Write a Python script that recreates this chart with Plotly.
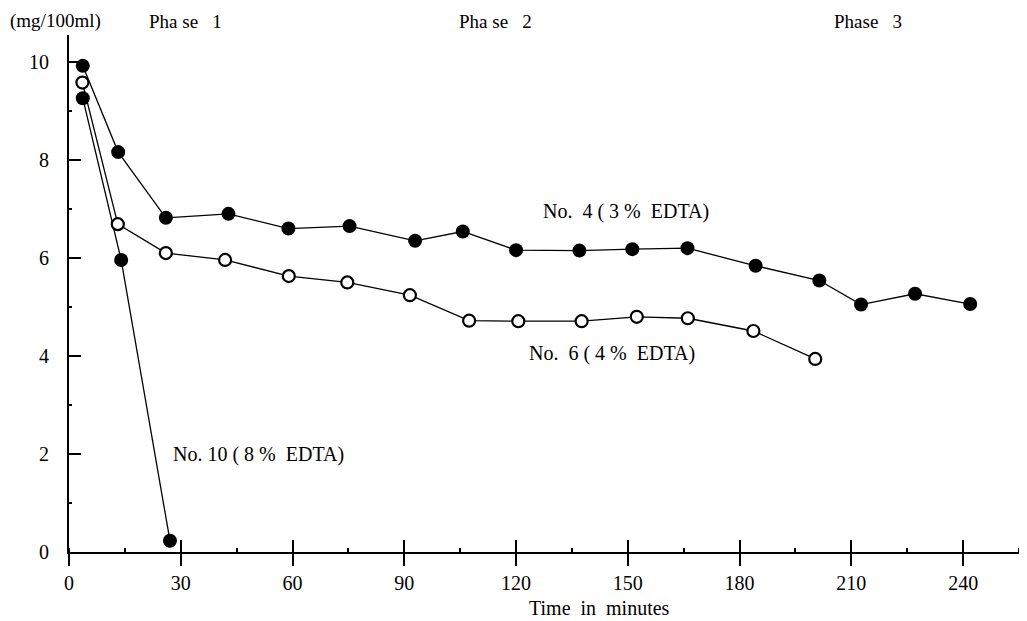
import plotly.graph_objects as go

# Data
t_no4 = [3.7, 13.2, 26, 42.8, 58.9, 75.3, 92.9, 105.7, 120, 137, 151.2, 166, 184.3, 201.4, 212.6, 227.1, 241.9]
v_no4 = [9.92, 8.16, 6.82, 6.9, 6.6, 6.65, 6.35, 6.54, 6.16, 6.15, 6.18, 6.2, 5.84, 5.54, 5.05, 5.27, 5.06]

t_no6 = [3.6, 13.1, 26, 41.9, 59, 74.7, 91.5, 107.4, 120.6, 137.6, 152.4, 166.1, 183.7, 200.3]
v_no6 = [9.58, 6.69, 6.1, 5.96, 5.63, 5.5, 5.24, 4.72, 4.71, 4.71, 4.8, 4.77, 4.51, 3.94]

t_no10 = [3.7, 14, 27.1]
v_no10 = [9.26, 5.96, 0.23]

x_ticks = [0, 30, 60, 90, 120, 150, 180, 210, 240]
y_ticks = [0, 2, 4, 6, 8, 10]

FONT = "Liberation Serif"
NB = "\u00a0"
OFF = 8  # page body margin

fig = go.Figure()
line = dict(color="black", width=1.3)
fig.add_trace(go.Scatter(x=t_no10, y=v_no10, mode="lines+markers", line=line,
                         marker=dict(size=14, color="black"), showlegend=False))
fig.add_trace(go.Scatter(x=t_no6, y=v_no6, mode="lines+markers", line=line,
                         marker=dict(size=12, color="white", line=dict(color="black", width=2.2)),
                         showlegend=False))
fig.add_trace(go.Scatter(x=t_no4, y=v_no4, mode="lines+markers", line=line,
                         marker=dict(size=14, color="black"), showlegend=False))

W, H = 1019, 613
L, R, T, B = 69 - OFF, 5, 35 - OFF, 69
xmax = 255.8
ymax = 10.55

fig.update_layout(
    width=W, height=H,
    margin=dict(l=L, r=R, t=T, b=B),
    plot_bgcolor="white", paper_bgcolor="white",
    font=dict(family=FONT, size=20, color="black"),
    xaxis=dict(range=[0, xmax], tickvals=x_ticks, ticks="outside", ticklen=12, tickwidth=2,
               tickcolor="black", showline=True, linecolor="black", linewidth=2,
               showgrid=False, zeroline=False,
               minor=dict(ticks="inside", ticklen=4, tickwidth=2, tickcolor="black", dtick=15, tick0=15),
               tickfont=dict(family=FONT, size=20)),
    xaxis2=dict(range=[0, xmax], overlaying="x", matches="x", side="bottom", tickvals=x_ticks,
                ticks="inside", ticklen=12, tickwidth=2, tickcolor="black",
                showticklabels=False, showgrid=False, zeroline=False, showline=False),
    yaxis=dict(range=[0, ymax], tickvals=y_ticks, ticks="inside", ticklen=12, tickwidth=2,
               tickcolor="black", showline=True, linecolor="black", linewidth=2.2,
               showgrid=False, zeroline=False, ticklabelstandoff=14,
               minor=dict(ticks="inside", ticklen=3, tickwidth=1.5, tickcolor="black", dtick=1),
               tickfont=dict(family=FONT, size=20)),
)
fig.add_trace(go.Scatter(x=[None], y=[None], xaxis="x2", showlegend=False, hoverinfo="skip"))

def ann(text, x, y, xref="x", yref="y", xanchor="left", size=20):
    fig.add_annotation(text=text, x=x, y=y, xref=xref, yref=yref, xanchor=xanchor,
                       yanchor="middle", showarrow=False, borderpad=0,
                       font=dict(family=FONT, size=size))

ann(f"No.{NB}{NB}4{NB}({NB}3{NB}%{NB}{NB}EDTA)", 127, 6.94)
ann(f"No.{NB}{NB}6{NB}({NB}4{NB}%{NB}{NB}EDTA)", 123.2, 4.06)
ann(f"No.{NB}10{NB}({NB}8{NB}%{NB}{NB}EDTA)", 27.7, 1.98)

pw = W - L - R
ph = H - T - B
def px(xp): return (xp - OFF - L) / pw
def py(yp): return (H - B - (yp - OFF)) / ph

ann("(mg/100ml)", px(9), py(21), xref="paper", yref="paper", size=19)
ann(f"Pha{NB}se{NB}{NB}{NB}1", px(148), py(21), xref="paper", yref="paper", size=19)
ann(f"Pha{NB}se{NB}{NB}{NB}2", px(458), py(21), xref="paper", yref="paper", size=19)
ann(f"Phase{NB}{NB}{NB}3", px(833), py(21), xref="paper", yref="paper", size=19)
ann(f"Time{NB}{NB}in{NB}{NB}minutes", px(528), py(608), xref="paper", yref="paper")

fig.write_html("out.html")
